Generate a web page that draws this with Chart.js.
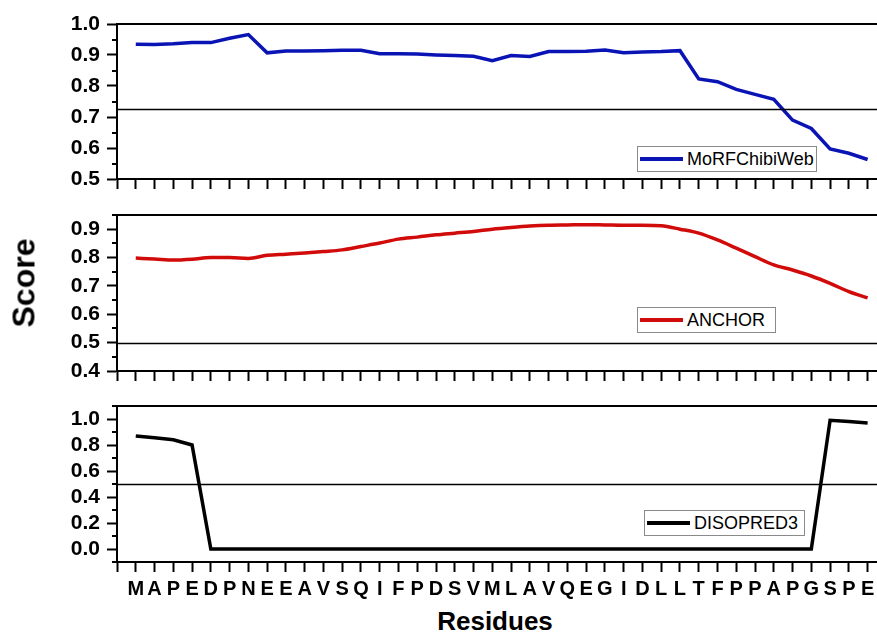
<!DOCTYPE html>
<html>
<head>
<meta charset="utf-8">
<script src="https://cdn.jsdelivr.net/npm/chart.js@4.4.0/dist/chart.umd.min.js"></script>
<style>
  body { margin: 0; background: #fff; width: 877px; height: 634px; overflow: hidden; position: relative;
         font-family: 'Liberation Sans', Arial, sans-serif; }
  .panel { position: absolute; left: 0; width: 877px; }
  .legend { position: absolute; border: 1px solid #8a8a8a; background: #fff; font-size: 18px;
            display: flex; align-items: center; box-sizing: border-box; height: 26px; white-space: nowrap; }
  .legend i { display: inline-block; width: 43px; height: 4px; margin: 0 4px 0 2px; }
  #ytitle { position: absolute; left: 24px; top: 283px; transform: translate(-50%, -50%) rotate(-90deg);
            font-weight: bold; font-size: 32px; }
  #xtitle { position: absolute; left: 495px; top: 606px; transform: translateX(-50%);
            font-weight: bold; font-size: 26px; }
</style>
</head>
<body>
<div class="panel" style="top:0;height:191px"><canvas id="c-morf" width="877" height="191"></canvas></div>
<div class="panel" style="top:195px;height:188px"><canvas id="c-anchor" width="877" height="188"></canvas></div>
<div class="panel" style="top:385px;height:217px"><canvas id="c-diso" width="877" height="217"></canvas></div>

<div class="legend" style="left:637px;top:146px;width:180px"><i style="background:#0a14b4"></i>MoRFChibiWeb</div>
<div class="legend" style="left:637px;top:307px;width:139px"><i style="background:#d10a0a"></i>ANCHOR</div>
<div class="legend" style="left:644px;top:510px;width:161px"><i style="background:#000"></i>DISOPRED3</div>

<div id="ytitle">Score</div>
<div id="xtitle">Residues</div>

<script>
// secuencia y puntuaciones por residuo
const residues = ['M','A','P','E','D','P','N','E','E','A','V','S','Q','I','F','P','D','S','V','M',
                  'L','A','V','Q','E','G','I','D','L','L','T','F','P','P','A','P','G','S','P','E'];

const morfScores = [0.935,0.934,0.936,0.940,0.940,0.954,0.966,0.907,0.913,0.913,
                    0.914,0.915,0.915,0.904,0.904,0.903,0.900,0.898,0.896,0.882,
                    0.898,0.895,0.911,0.911,0.912,0.916,0.907,0.910,0.911,0.914,
                    0.823,0.814,0.789,0.773,0.757,0.690,0.663,0.597,0.583,0.563];

const anchorScores = [0.798,0.795,0.791,0.794,0.800,0.800,0.797,0.808,0.812,0.816,
                      0.821,0.827,0.839,0.851,0.865,0.872,0.880,0.886,0.892,0.900,
                      0.906,0.911,0.914,0.915,0.916,0.915,0.914,0.914,0.912,0.900,
                      0.886,0.862,0.833,0.803,0.774,0.756,0.735,0.709,0.680,0.658];

const disoScores = [0.870,0.855,0.840,0.800,0,0,0,0,0,0,
                    0,0,0,0,0,0,0,0,0,0,
                    0,0,0,0,0,0,0,0,0,0,
                    0,0,0,0,0,0,0,0.990,0.980,0.970];

const morfTicks   = ['0.5','0.6','0.7','0.8','0.9','1.0'];
const anchorTicks = ['0.4','0.5','0.6','0.7','0.8','0.9'];
const disoTicks   = ['0.0','0.2','0.4','0.6','0.8','1.0'];

const thresholds = { morf: 0.725, anchor: 0.5, diso: 0.5 };

Chart.defaults.font.family = "'Liberation Sans', Arial, sans-serif";
Chart.defaults.color = '#000';

// borde superior + ticks menores del eje y + línea de corte
const framePlugin = {
  id: 'frame',
  afterDatasetsDraw(chart) {
    const { ctx, chartArea: a, scales: { y } } = chart;
    const thr = chart.options.plugins.frame.threshold;
    ctx.save();
    ctx.strokeStyle = '#000';
    ctx.lineWidth = 1.5;
    ctx.beginPath();
    const ty = Math.round(y.getPixelForValue(thr)) + 0.5;
    ctx.moveTo(a.left, ty); ctx.lineTo(a.right, ty);
    ctx.stroke();

    ctx.lineWidth = 2;
    ctx.beginPath();
    ctx.moveTo(a.left - 1, a.top); ctx.lineTo(a.right, a.top);
    const vals = y.ticks.map(t => t.value);
    const step = vals[1] - vals[0];
    for (let v = vals[0] - step / 2; v <= y.max + 1e-9; v += step) {
      if (v < y.min - 1e-9) continue;
      const py = Math.round(y.getPixelForValue(v));
      ctx.moveTo(a.left, py); ctx.lineTo(a.left - 5, py);
    }
    ctx.stroke();
    ctx.restore();
  }
};

function makePanel(id, scores, color, yTicks, yMin, yMax, thr, opts) {
  const ctx = document.getElementById(id).getContext('2d');
  return new Chart(ctx, {
    type: 'line',
    data: {
      datasets: [{
        data: scores.map((v, i) => ({ x: i, y: v })),
        borderColor: color,
        borderWidth: 3.5,
        pointRadius: 0,
        tension: opts.tension || 0,
        cubicInterpolationMode: opts.tension ? 'monotone' : 'default',
      }]
    },
    options: {
      responsive: false, animation: false,
      layout: { padding: { top: opts.padTop, left: 0, right: 0, bottom: 0 } },
      plugins: { legend: { display: false }, tooltip: { enabled: false }, frame: { threshold: thr } },
      scales: {
        x: {
          type: 'linear', min: -1, max: 39.5,
          afterBuildTicks: s => { s.ticks = [-1].concat(residues.map((r, i) => i)).map(v => ({ value: v })); },
          afterFit: s => { s.height = opts.xHeight; s.paddingLeft = 0; s.paddingRight = 0; },
          ticks: {
            autoSkip: false, maxRotation: 0, padding: 5,
            font: { size: 20, weight: 'bold' },
            callback: v => opts.showLabels ? (residues[v] || '') : ''
          },
          grid: { drawOnChartArea: false, tickLength: 10, tickWidth: 2, tickColor: '#000' },
          border: { color: '#000', width: 2 }
        },
        y: {
          min: yMin, max: yMax,
          afterBuildTicks: s => { s.ticks = yTicks.map(t => ({ value: +t })); },
          afterFit: s => { s.width = 117; s.paddingTop = 0; s.paddingBottom = 0; },
          ticks: { padding: 7, font: { size: 21, weight: 'bold' }, callback: v => v.toFixed(1) },
          grid: { drawOnChartArea: false, tickLength: 10, tickWidth: 2, tickColor: '#000' },
          border: { color: '#000', width: 2 }
        }
      }
    },
    plugins: [framePlugin]
  });
}

makePanel('c-morf', morfScores, '#0a14b4', morfTicks, 0.5, 1.0, thresholds.morf,
          { padTop: 24, xHeight: 12, showLabels: false });
makePanel('c-anchor', anchorScores, '#d10a0a', anchorTicks, 0.4, 0.95, thresholds.anchor,
          { padTop: 20, xHeight: 12, showLabels: false, tension: 0.4 });
makePanel('c-diso', disoScores, '#000', disoTicks, -0.1, 1.1, thresholds.diso,
          { padTop: 21, xHeight: 40, showLabels: true });
</script>
</body>
</html>
